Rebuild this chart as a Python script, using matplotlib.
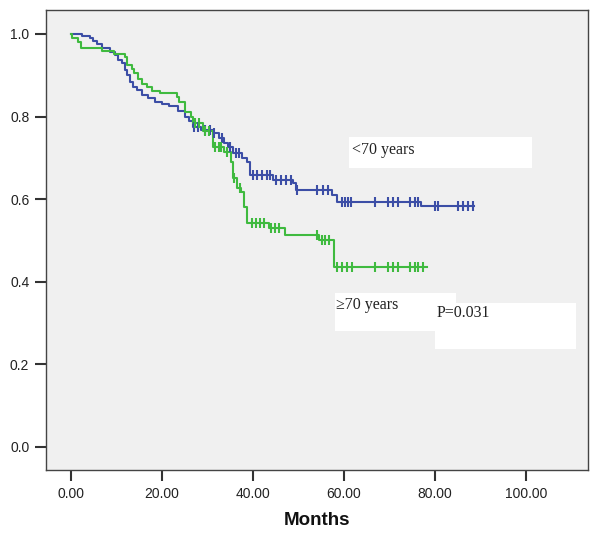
import matplotlib
matplotlib.use('Agg')
import matplotlib.pyplot as plt
import numpy as np
from matplotlib.patches import Rectangle

# ---------------- data ----------------
# <70 years (blue)
young_times = [0, 2.5, 4.2, 4.8, 5.7, 6.8, 8.6, 9.7, 10.3, 11.2,
               11.9, 12.3, 13.0, 13.6, 14.5, 15.6, 17.0, 18.5, 20.0, 21.5,
               23.5, 25.0, 26.0, 26.8, 28.6, 31.2, 32.5, 33.6, 34.5, 35.6,
               37.6, 38.7, 39.3, 44.4, 48.8, 49.5, 57.4, 58.5, 76.9]
young_surv = [1.0, 0.995, 0.99, 0.983, 0.976, 0.966, 0.956, 0.949, 0.937, 0.930,
              0.913, 0.901, 0.884, 0.872, 0.864, 0.852, 0.845, 0.835, 0.830, 0.826,
              0.814, 0.80, 0.79, 0.775, 0.768, 0.76, 0.748, 0.735, 0.726, 0.712,
              0.70, 0.69, 0.658, 0.646, 0.638, 0.622, 0.61, 0.593, 0.583]
young_censor = [27.0, 28.0, 29.5, 30.5, 31.5, 33.2, 34.9, 36.2, 36.9, 40.0,
                40.9, 42.0, 43.0, 43.7, 45.0, 46.2, 47.3, 48.4, 49.7, 54.1,
                55.4, 56.5, 59.6, 60.2, 60.9, 61.5, 66.8, 69.7, 70.8, 71.9,
                74.5, 75.6, 76.3, 80.0, 80.7, 85.1, 86.2, 87.3, 88.4]
young_end = 88.6

# >=70 years (green)
old_times = [0, 0.3, 1.5, 2.2, 6.8, 9.5, 11.9, 12.3, 13.4, 13.8,
             14.8, 15.6, 16.7, 17.8, 19.6, 23.3, 23.7, 25.0, 26.4, 26.8,
             29.0, 31.2, 33.6, 35.2, 35.6, 36.5, 37.4, 38.0, 38.7, 43.5,
             47.0, 54.5, 57.8]
old_surv = [1.0, 0.99, 0.98, 0.966, 0.958, 0.952, 0.943, 0.925, 0.915, 0.906,
            0.891, 0.879, 0.872, 0.862, 0.857, 0.847, 0.835, 0.81, 0.80, 0.784,
            0.765, 0.726, 0.714, 0.69, 0.651, 0.627, 0.617, 0.58, 0.542, 0.53,
            0.513, 0.50, 0.436]
old_censor = [27.3, 28.2, 29.5, 30.3, 31.6, 32.5, 33.0, 34.3, 35.9, 37.1,
              39.8, 40.7, 41.5, 42.4, 44.0, 44.8, 45.7, 54.1, 55.2, 55.8,
              56.7, 58.5, 59.6, 60.7, 61.8, 66.8, 69.7, 70.8, 71.9, 74.5,
              75.6, 76.3, 77.4]
old_end = 78.2

x_ticks = [0, 20, 40, 60, 80, 100]
y_ticks = [0.0, 0.2, 0.4, 0.6, 0.8, 1.0]

label_young = "<70 years"
label_old = "\u226570 years"
p_text = "P=0.031"

BLUE = '#3c4ea6'
GREEN = '#3fba3f'

# ---------------- figure ----------------
fig = plt.figure(figsize=(6.0, 5.41), dpi=100)
fig.patch.set_facecolor('white')
ax = fig.add_axes([46/600, 1-470/541, (588-46)/600, (470-10)/541])
ax.set_facecolor('#f0f0f0')


def km(ax, times, surv, censor, end, color):
    t = np.array(times + [end], dtype=float)
    s = np.array(surv + [surv[-1]], dtype=float)
    ax.step(t, s, where='post', color=color, lw=1.5, zorder=3)
    tt = np.array(times, dtype=float)
    idx = np.searchsorted(tt, np.array(censor), side='right') - 1
    cs = np.array(surv)[idx]
    ax.plot(censor, cs, linestyle='none', marker='|', markersize=7.5,
            markeredgewidth=1.5, color=color, zorder=4)


km(ax, young_times, young_surv, young_censor, young_end, BLUE)
km(ax, old_times, old_surv, old_censor, old_end, GREEN)

ax.set_xlim(-5.5, 113.6)
ax.set_ylim(-0.056, 1.058)
ax.set_xticks(x_ticks)
ax.set_xticklabels([f"{v:.2f}" for v in x_ticks])
ax.set_yticks(y_ticks)
ax.set_yticklabels([f"{v:.1f}" for v in y_ticks])
ax.tick_params(direction='out', length=8, width=1.5, color='#333333',
               labelsize=10, labelcolor='#222222', pad=4)
for lab in ax.get_xticklabels() + ax.get_yticklabels():
    lab.set_family('Liberation Sans')
for sp in ax.spines.values():
    sp.set_color('#444444')
    sp.set_linewidth(1.0)

ax.set_xlabel('Months', fontsize=13.5, fontweight='bold',
              family='Liberation Sans', color='#111111', labelpad=8)

# text boxes
ax.add_patch(Rectangle((61.1, 0.676), 40.2, 0.075, facecolor='white',
                       edgecolor='none', zorder=5))
ax.text(61.8, 0.719, label_young, family='Liberation Serif', fontsize=11.5,
        va='center', ha='left', color='#222222', zorder=6)

ax.add_patch(Rectangle((58.0, 0.281), 26.6, 0.092, facecolor='white',
                       edgecolor='none', zorder=5))
ax.text(58.2, 0.344, label_old, family='Liberation Serif', fontsize=11.5,
        va='center', ha='left', color='#222222', zorder=6)

ax.add_patch(Rectangle((80.0, 0.237), 31.0, 0.112, facecolor='white',
                       edgecolor='none', zorder=7))
ax.text(80.4, 0.324, p_text, family='Liberation Serif', fontsize=11.5,
        va='center', ha='left', color='#222222', zorder=8)

fig.savefig('out.png', dpi=100)
